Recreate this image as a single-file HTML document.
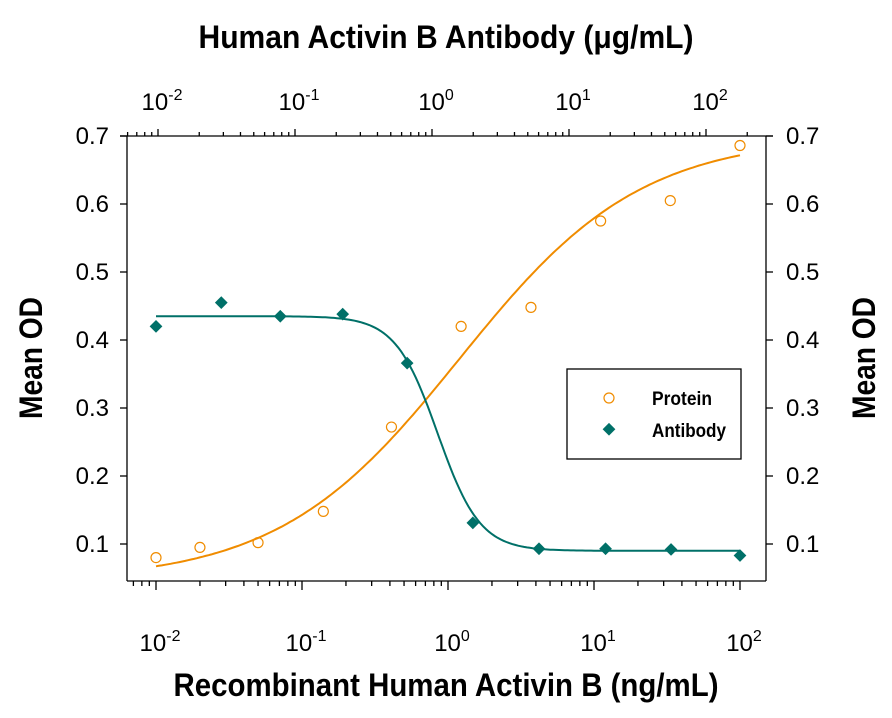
<!DOCTYPE html>
<html><head><meta charset="utf-8"><style>
body{margin:0;background:#fff}
text{font-family:"Liberation Sans Narrow","Liberation Sans",sans-serif;fill:#000}
</style></head><body>
<svg id="chart" width="892" height="713" xmlns="http://www.w3.org/2000/svg">
<g id="axes"></g>
<g id="marks"></g>
<text x="446" y="48" text-anchor="middle" font-size="32" font-weight="bold" textLength="495" lengthAdjust="spacingAndGlyphs">Human Activin B Antibody (μg/mL)</text>
<text x="446" y="696" text-anchor="middle" font-size="32" font-weight="bold" textLength="545" lengthAdjust="spacingAndGlyphs">Recombinant Human Activin B (ng/mL)</text>
<text transform="translate(42,358) rotate(-90)" text-anchor="middle" font-size="32" font-weight="bold" textLength="122" lengthAdjust="spacingAndGlyphs">Mean OD</text>
<text transform="translate(875,358) rotate(-90)" text-anchor="middle" font-size="32" font-weight="bold" textLength="122" lengthAdjust="spacingAndGlyphs">Mean OD</text>
<g>
<rect x="567" y="369" width="174" height="90" fill="#fff" stroke="#000" stroke-width="1.3"/>
<circle cx="609" cy="398" r="5" fill="none" stroke="#f08c00" stroke-width="1.2"/>
<text x="652" y="405" font-size="19" font-weight="bold" textLength="60" lengthAdjust="spacingAndGlyphs">Protein</text>
<rect x="604" y="425" width="9" height="9" fill="#007068" transform="rotate(45 609 430)"/>
<text x="652" y="437" font-size="19" font-weight="bold" textLength="74" lengthAdjust="spacingAndGlyphs">Antibody</text>
</g>
</svg>
<script>
const proteinX=[0.01,0.02,0.05,0.14,0.41,1.23,3.7,11.1,33.3,100];
const proteinY=[0.080,0.095,0.102,0.148,0.272,0.420,0.448,0.575,0.605,0.686];
const antibodyX=[0.01,0.028,0.071,0.19,0.525,1.48,4.2,12,33.7,100];
const antibodyY=[0.420,0.455,0.435,0.438,0.366,0.131,0.093,0.093,0.092,0.083];
const yTicks=[0.1,0.2,0.3,0.4,0.5,0.6,0.7];
const yTickLabels=["0.1","0.2","0.3","0.4","0.5","0.6","0.7"];
const xExps=[-2,-1,0,1,2];
const topExps=[-2,-1,0,1,2];
const proteinFit=[0.045,0.70,1.2,0.7];   // bottom, top, ec50, hill
const antibodyFit=[0.09,0.435,0.85,3.0];

const NS="http://www.w3.org/2000/svg";
const L=127,R=766,T=136,B=581;
const sx=v=>448+146*Math.log10(v);
const stx=v=>432+137*Math.log10(v);
const sy=v=>T+(0.7-v)*680;
const axes=document.getElementById('axes'),marks=document.getElementById('marks');
function mk(tag,attrs,parent){const e=document.createElementNS(NS,tag);for(const k in attrs)e.setAttribute(k,attrs[k]);parent.appendChild(e);return e;}
function line(x1,y1,x2,y2,p,name){const e=mk('line',{x1,y1,x2,y2,stroke:'#000','stroke-width':1.3},p);

return e;}
line(L,T,R+7,T,axes,'top-axis-line');line(L-7,T,L,T,axes,'top-axis-line-ext');
line(L,B,R,B,axes,'bottom-axis-line');line(L,T,L,B,axes,'left-axis-line');line(R,T,R,B,axes,'right-axis-line');
yTicks.forEach((v,i)=>{const y=sy(v);
line(L-7,y,L,y,axes,'left-y-tick');line(R,y,R+7,y,axes,'right-y-tick');
let t=mk('text',{x:L-18,y:y+8,'text-anchor':'end','font-size':24},axes);t.textContent=yTickLabels[i];


t=mk('text',{x:R+20,y:y+8,'font-size':24},axes);t.textContent=yTickLabels[i];

});
function expLabel(x,y,e,name){const t=mk('text',{x:x,y:y,'text-anchor':'middle','font-size':24},axes);


const a=mk('tspan',{},t);a.textContent='10';const b=mk('tspan',{dy:-10,'font-size':16},t);b.textContent=String(e).replace('-','-');}
xExps.forEach(e=>{const x=sx(Math.pow(10,e));line(x,B,x,B+9,axes,'bottom-x-major-tick');expLabel(x+4,651,e,'bottom-x-tick-label');
if(e<2)for(let m=2;m<10;m++){const xm=sx(m*Math.pow(10,e));line(xm,B,xm,B+5,axes,'bottom-x-minor-tick');}
for(let m=6;m<10&&e===-2;m++){const xm=sx(m*Math.pow(10,e-1));if(xm>L)line(xm,B,xm,B+5,axes,'bottom-x-minor-tick');}});
topExps.forEach(e=>{const x=stx(Math.pow(10,e));line(x,T,x,T-7,axes,'top-x-major-tick');expLabel(x+4,110,e,'top-x-tick-label');
for(let m=2;m<10;m++){const xm=stx(m*Math.pow(10,e));if(xm<R)line(xm,T,xm,T-4,axes,'top-x-minor-tick');}
if(e===-2)for(let m=6;m<10;m++){const xm=stx(m*Math.pow(10,e-1));if(xm>L)line(xm,T,xm,T-4,axes,'top-x-minor-tick');}});
function fit(p,x){return p[0]+(p[1]-p[0])/(1+Math.pow(p[2]/x,p[3]));}
function curve(p,name,color,dir){let d='';for(let i=0;i<=200;i++){const lx=-2+4*i/200;const x=Math.pow(10,lx);
const y=dir>0?fit(p,x):p[0]+(p[1]-p[0])/(1+Math.pow(x/p[2],p[3]));d+=(i?'L':'M')+sx(x).toFixed(1)+' '+sy(y).toFixed(1);}
const e=mk('path',{d:d,fill:'none',stroke:color,'stroke-width':2},marks);

}
curve(proteinFit,'protein-fit-curve','#f08c00',1);
curve(antibodyFit,'antibody-fit-curve','#007068',-1);
proteinX.forEach((x,i)=>{const c=mk('circle',{cx:sx(x),cy:sy(proteinY[i]),r:5,fill:'none',stroke:'#f08c00','stroke-width':1.2},marks);

});
antibodyX.forEach((x,i)=>{const cx=sx(x),cy=sy(antibodyY[i]);
const r=mk('rect',{x:cx-4.5,y:cy-4.5,width:9,height:9,fill:'#007068',transform:`rotate(45 ${cx} ${cy})`},marks);

});
</script>
</body></html>
